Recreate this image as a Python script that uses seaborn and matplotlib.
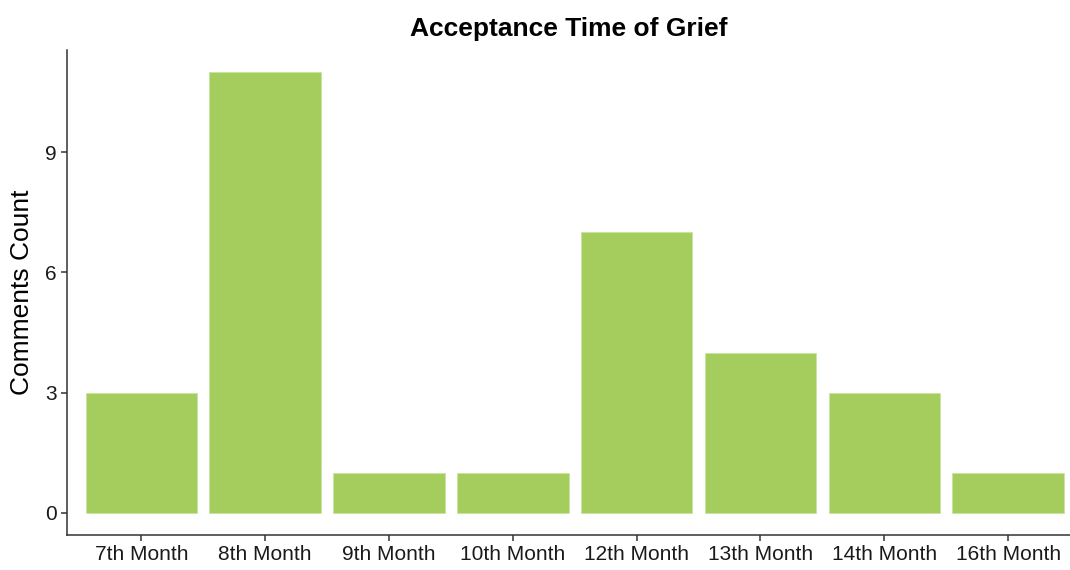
import matplotlib.pyplot as plt
import seaborn as sns
import pandas as pd

months = ["7th Month", "8th Month", "9th Month", "10th Month",
          "12th Month", "13th Month", "14th Month", "16th Month"]
counts = [3, 11, 1, 1, 7, 4, 3, 1]

df = pd.DataFrame({"month": months, "count": counts})

sns.set_theme(style="ticks")
plt.rcParams["font.family"] = ["Liberation Sans", "DejaVu Sans"]

fig = plt.figure(figsize=(10.7, 5.7), dpi=100)
ax = fig.add_axes([67 / 1070, 35 / 570, 1 - 67 / 1070, (535 - 50) / 570])

sns.barplot(data=df, x="month", y="count", color="#A4CD5E", saturation=1,
            width=0.9, edgecolor="#C8E3A0", linewidth=0.6, ax=ax)

ax.set_xlim(-0.6, 7.5)
ax.set_ylim(-0.55, 11.55)
ax.set_yticks([0, 3, 6, 9])
ax.set_xlabel("")
ax.set_ylabel("Comments Count", fontsize=19, color="black", labelpad=8)
ax.set_title("Acceptance Time of Grief", fontsize=19, fontweight="bold",
             color="black", pad=10)

for s in ["top", "right"]:
    ax.spines[s].set_visible(False)
for s in ["left", "bottom"]:
    ax.spines[s].set_color("#333333")
    ax.spines[s].set_linewidth(1.1)
ax.tick_params(axis="both", length=4, width=1.1, color="#333333",
               labelsize=15, labelcolor="#1a1a1a")

fig.savefig("out.png", dpi=100)
